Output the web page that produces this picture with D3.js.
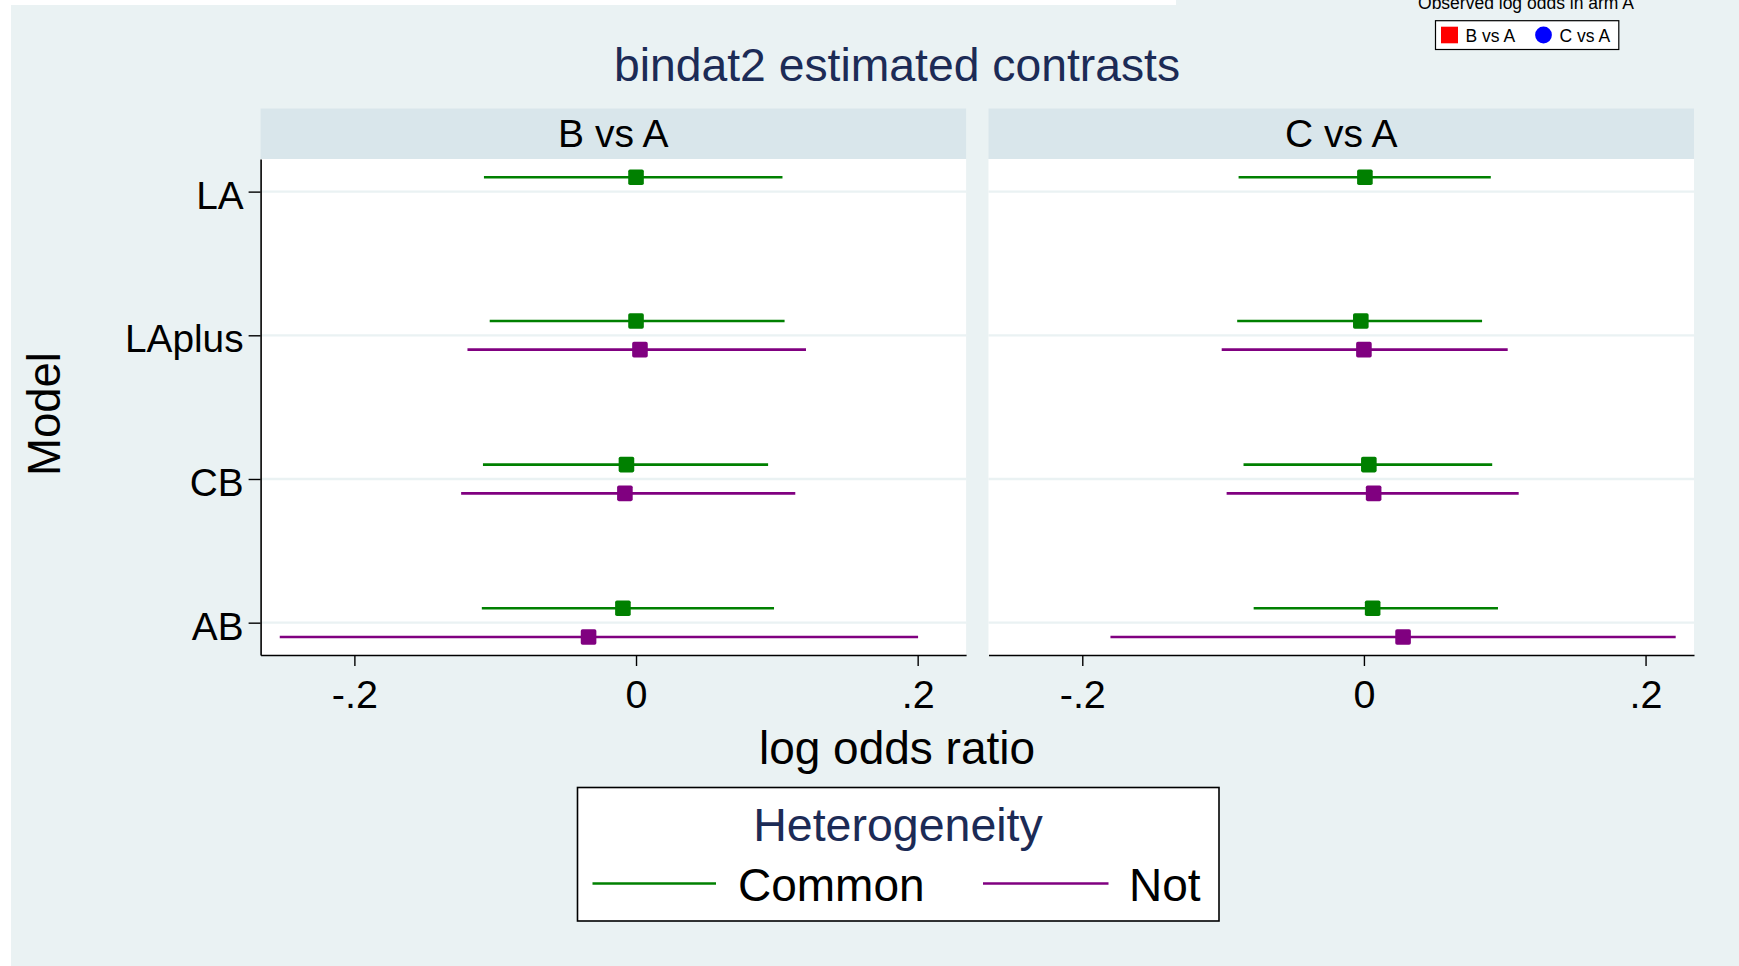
<!DOCTYPE html>
<html>
<head>
<meta charset="utf-8">
<script src="https://cdn.jsdelivr.net/npm/d3@7"></script>
<style>
  html, body { margin: 0; padding: 0; background: #ffffff; overflow: hidden; }
  svg text { font-family: "Liberation Sans", Arial, Helvetica, sans-serif; }
</style>
</head>
<body>
<svg id="chart" width="1739" height="966"></svg>
<script>
// ---- data ---------------------------------------------------------------
const models = ["LA", "LAplus", "CB", "AB"];
const contrasts = ["B vs A", "C vs A"];
const heterogeneity = ["Common", "Not"];
const xTicks = [-0.2, 0, 0.2];
const xTickLabels = ["-.2", "0", ".2"];

// B vs A, common heterogeneity
const bvaCommonEst = [0.0000, 0.0000, -0.0068, -0.0093];
const bvaCommonLo  = [-0.1080, -0.1039, -0.1087, -0.1095];
const bvaCommonHi  = [0.1040, 0.1055, 0.0938, 0.0980];
// B vs A, not common (LA has no estimate)
const bvaNotEst = [null, 0.0028, -0.0079, -0.0337];
const bvaNotLo  = [null, -0.1197, -0.1242, -0.2530];
const bvaNotHi  = [null, 0.1207, 0.1131, 0.2003];

// C vs A, common heterogeneity
const cvaCommonEst = [0.0007, -0.0022, 0.0035, 0.0062];
const cvaCommonLo  = [-0.0890, -0.0900, -0.0855, -0.0783];
const cvaCommonHi  = [0.0901, 0.0839, 0.0911, 0.0952];
// C vs A, not common
const cvaNotEst = [null, 0.0000, 0.0069, 0.0278];
const cvaNotLo  = [null, -0.1010, -0.0975, -0.1800];
const cvaNotHi  = [null, 0.1021, 0.1099, 0.2214];

// mini legend of the observed log odds
const armLegendLabels = ["B vs A", "C vs A"];

// ---- styling ------------------------------------------------------------
const W = 1739, H = 966;
const BG = "#EAF2F3", HEADER = "#D9E6EB", NAVY = "#1C2B56";
const seriesColor = { Common: "#008000", Not: "#800080" };
const seriesOffset = { Common: -0.1, Not: 0.1 };

const svg = d3.select("#chart");

// background
svg.append("rect").attr("x", 11).attr("y", 5).attr("width", W - 11).attr("height", H - 5).attr("fill", BG);
svg.append("rect").attr("x", 1176).attr("y", 0).attr("width", W - 1176).attr("height", 5).attr("fill", BG);

// panel geometry
const panelLeft = [260.6, 988.5];
const panelW = 705.5;
const headerTop = 108.5, plotTop = 159, plotBottom = 655;

const y = d3.scaleLinear().domain([0.773, 4.225]).range([plotTop, plotBottom]);

const panelData = {
  "B vs A": {
    Common: { est: bvaCommonEst, lo: bvaCommonLo, hi: bvaCommonHi },
    Not:    { est: bvaNotEst,    lo: bvaNotLo,    hi: bvaNotHi }
  },
  "C vs A": {
    Common: { est: cvaCommonEst, lo: cvaCommonLo, hi: cvaCommonHi },
    Not:    { est: cvaNotEst,    lo: cvaNotLo,    hi: cvaNotHi }
  }
};

contrasts.forEach((name, p) => {
  const left = panelLeft[p];
  const x = d3.scaleLinear().domain([-0.2666, 0.2344]).range([left, left + panelW]);
  const g = svg.append("g");

  // strip header
  g.append("rect").attr("x", left).attr("y", headerTop).attr("width", panelW)
    .attr("height", plotTop - headerTop).attr("fill", HEADER);
  g.append("text").attr("x", left + panelW / 2).attr("y", 147)
    .attr("text-anchor", "middle").attr("font-size", 39).attr("fill", "#000").text(name);

  // plot region
  g.append("rect").attr("x", left).attr("y", plotTop).attr("width", panelW)
    .attr("height", plotBottom - plotTop).attr("fill", "#ffffff");

  // horizontal grid lines at each model
  g.selectAll("line.grid").data(models).join("line").attr("class", "grid")
    .attr("x1", left).attr("x2", left + panelW)
    .attr("y1", (d, i) => y(i + 1)).attr("y2", (d, i) => y(i + 1))
    .attr("stroke", BG).attr("stroke-width", 2.3);

  // estimates with confidence intervals
  heterogeneity.forEach(h => {
    const s = panelData[name][h];
    const rows = models.map((m, i) => ({ i, est: s.est[i], lo: s.lo[i], hi: s.hi[i] }))
      .filter(r => r.est !== null);
    const yy = r => y(r.i + 1 + seriesOffset[h]);
    g.selectAll(null).data(rows).join("line")
      .attr("x1", r => x(r.lo)).attr("x2", r => x(r.hi))
      .attr("y1", yy).attr("y2", yy)
      .attr("stroke", seriesColor[h]).attr("stroke-width", 2.6);
    g.selectAll(null).data(rows).join("rect")
      .attr("x", r => x(r.est) - 7.8).attr("y", r => yy(r) - 7.8)
      .attr("width", 15.6).attr("height", 15.6).attr("rx", 1.8)
      .attr("fill", seriesColor[h]);
  });

  // x axis
  const xAxis = d3.axisBottom(x).tickValues(xTicks)
    .tickFormat((d, i) => xTickLabels[i]).tickSize(11).tickSizeOuter(0).tickPadding(14);
  const ax = g.append("g").attr("transform", `translate(0,${plotBottom})`).call(xAxis);
  ax.select(".domain").attr("stroke", "#000").attr("stroke-width", 1.6);
  ax.selectAll(".tick line").attr("stroke", "#000").attr("stroke-width", 1.4);
  ax.selectAll(".tick text").attr("font-size", 39.5).attr("fill", "#000")
    .attr("font-family", "Liberation Sans, Arial, sans-serif");

  // y axis on the first panel only
  if (p === 0) {
    const yAxis = d3.axisLeft(y).tickValues([1, 2, 3, 4])
      .tickFormat(d => models[d - 1]).tickSize(12).tickSizeOuter(0).tickPadding(5);
    const ay = g.append("g").attr("transform", `translate(${left},0)`).call(yAxis);
    ay.select(".domain").attr("stroke", "#000").attr("stroke-width", 1.6);
    ay.selectAll(".tick line").attr("stroke", "#000").attr("stroke-width", 1.4);
    ay.selectAll(".tick text").attr("font-size", 38.8).attr("fill", "#000").attr("dy", "0.43em")
      .attr("font-family", "Liberation Sans, Arial, sans-serif");
  }
});

// titles
svg.append("text").attr("x", 897).attr("y", 81).attr("text-anchor", "middle")
  .attr("font-size", 46.3).attr("fill", NAVY).text("bindat2 estimated contrasts");
svg.append("text").attr("x", 897).attr("y", 764).attr("text-anchor", "middle")
  .attr("font-size", 46).attr("fill", "#000").text("log odds ratio");
svg.append("text").attr("transform", "translate(60,414) rotate(-90)").attr("text-anchor", "middle")
  .attr("font-size", 45.5).attr("fill", "#000").text("Model");

// heterogeneity legend
const lg = svg.append("g");
lg.append("rect").attr("x", 577.5).attr("y", 787.5).attr("width", 641.5).attr("height", 133.5)
  .attr("fill", "#fff").attr("stroke", "#000").attr("stroke-width", 1.6);
lg.append("text").attr("x", 898).attr("y", 841).attr("text-anchor", "middle")
  .attr("font-size", 46.5).attr("fill", NAVY).text("Heterogeneity");
const legendKeyX = { Common: [592.5, 716, 738], Not: [983, 1108.5, 1129] };
heterogeneity.forEach(h => {
  const [x1, x2, tx] = legendKeyX[h];
  lg.append("line").attr("x1", x1).attr("x2", x2).attr("y1", 883.5).attr("y2", 883.5)
    .attr("stroke", seriesColor[h]).attr("stroke-width", 2.6);
  lg.append("text").attr("x", tx).attr("y", 901).attr("font-size", 46).attr("fill", "#000").text(h);
});

// observed log odds legend (top right)
const ol = svg.append("g");
ol.append("text").attr("x", 1526).attr("y", 9.3).attr("text-anchor", "middle")
  .attr("font-size", 17.5).attr("fill", "#000").text("Observed log odds in arm A");
ol.append("rect").attr("x", 1435.5).attr("y", 20.7).attr("width", 183.3).attr("height", 28.8)
  .attr("fill", "#fff").attr("stroke", "#000").attr("stroke-width", 1.2);
ol.append("rect").attr("x", 1441).attr("y", 26.7).attr("width", 17).attr("height", 16.6).attr("fill", "#FF0000");
ol.append("circle").attr("cx", 1543.5).attr("cy", 35).attr("r", 8.4).attr("fill", "#0000FF");
ol.append("text").attr("x", 1465.5).attr("y", 42.3).attr("font-size", 17.5).attr("fill", "#000").text(armLegendLabels[0]);
ol.append("text").attr("x", 1559.5).attr("y", 42.3).attr("font-size", 17.5).attr("fill", "#000").text(armLegendLabels[1]);
</script>
</body>
</html>
